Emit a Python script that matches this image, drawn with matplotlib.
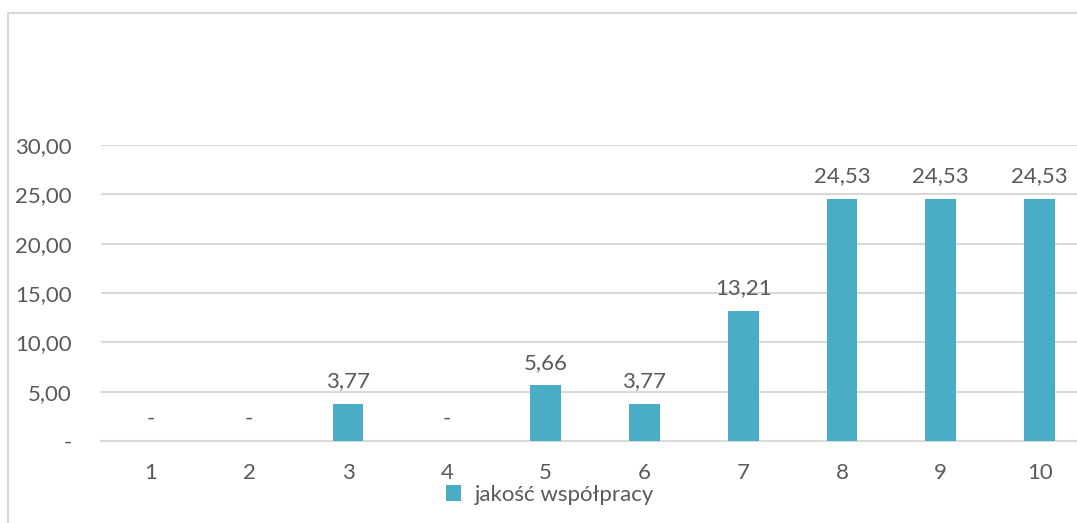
import matplotlib.pyplot as plt
from matplotlib.patches import Rectangle
from matplotlib.ticker import FuncFormatter

# data
categories = ['1', '2', '3', '4', '5', '6', '7', '8', '9', '10']
values = [0, 0, 3.77, 0, 5.66, 3.77, 13.21, 24.53, 24.53, 24.53]
series_name = 'jakość współpracy'

plt.rcParams['font.family'] = ['Lato', 'DejaVu Sans']
text_color = '#595959'
grid_color = '#D9D9D9'
bar_color = '#4BACC6'
fs = 16


def pl_fmt(v):
    if v == 0:
        return '-'
    return f'{v:.2f}'.replace('.', ',')


fig = plt.figure(figsize=(10.77, 5.23), dpi=100)
ax = fig.add_axes([101 / 1077, 82 / 523, 988 / 1077, 296 / 523])

# outer chart border (cropped on right and bottom)
fig.patches.append(Rectangle((8 / 1077, -0.2), 1.2, 1.2 - 13 / 523,
                             transform=fig.transFigure, fill=False,
                             edgecolor=grid_color, linewidth=1.5))

x = range(len(categories))
bars = ax.bar(x, values, width=0.31, color=bar_color, label=series_name, zorder=3)
ax.bar_label(bars, labels=[pl_fmt(v) for v in values], padding=9,
             fontsize=fs, color=text_color)

ax.set_xlim(-0.5, len(categories) - 0.5)
ax.set_ylim(0, 30)
ax.set_yticks([0, 5, 10, 15, 20, 25, 30])
ax.yaxis.set_major_formatter(FuncFormatter(lambda v, p: pl_fmt(v)))
ax.set_xticks(list(x))
ax.set_xticklabels(categories)

ax.grid(axis='y', color=grid_color, linewidth=1.5, zorder=0)
for s in ['top', 'right', 'left']:
    ax.spines[s].set_visible(False)
ax.spines['bottom'].set_color(grid_color)
ax.spines['bottom'].set_linewidth(1.5)
ax.tick_params(axis='both', length=0, labelsize=fs, labelcolor=text_color)
ax.tick_params(axis='y', pad=21)
ax.tick_params(axis='x', pad=16)

ax.legend(loc='center', bbox_to_anchor=(550 / 1077, 28 / 523),
          bbox_transform=fig.transFigure, frameon=False, fontsize=fs,
          labelcolor=text_color, handlelength=0.7, handleheight=0.7,
          handletextpad=0.6, borderpad=0.2)

fig.savefig('out.png', dpi=100)
